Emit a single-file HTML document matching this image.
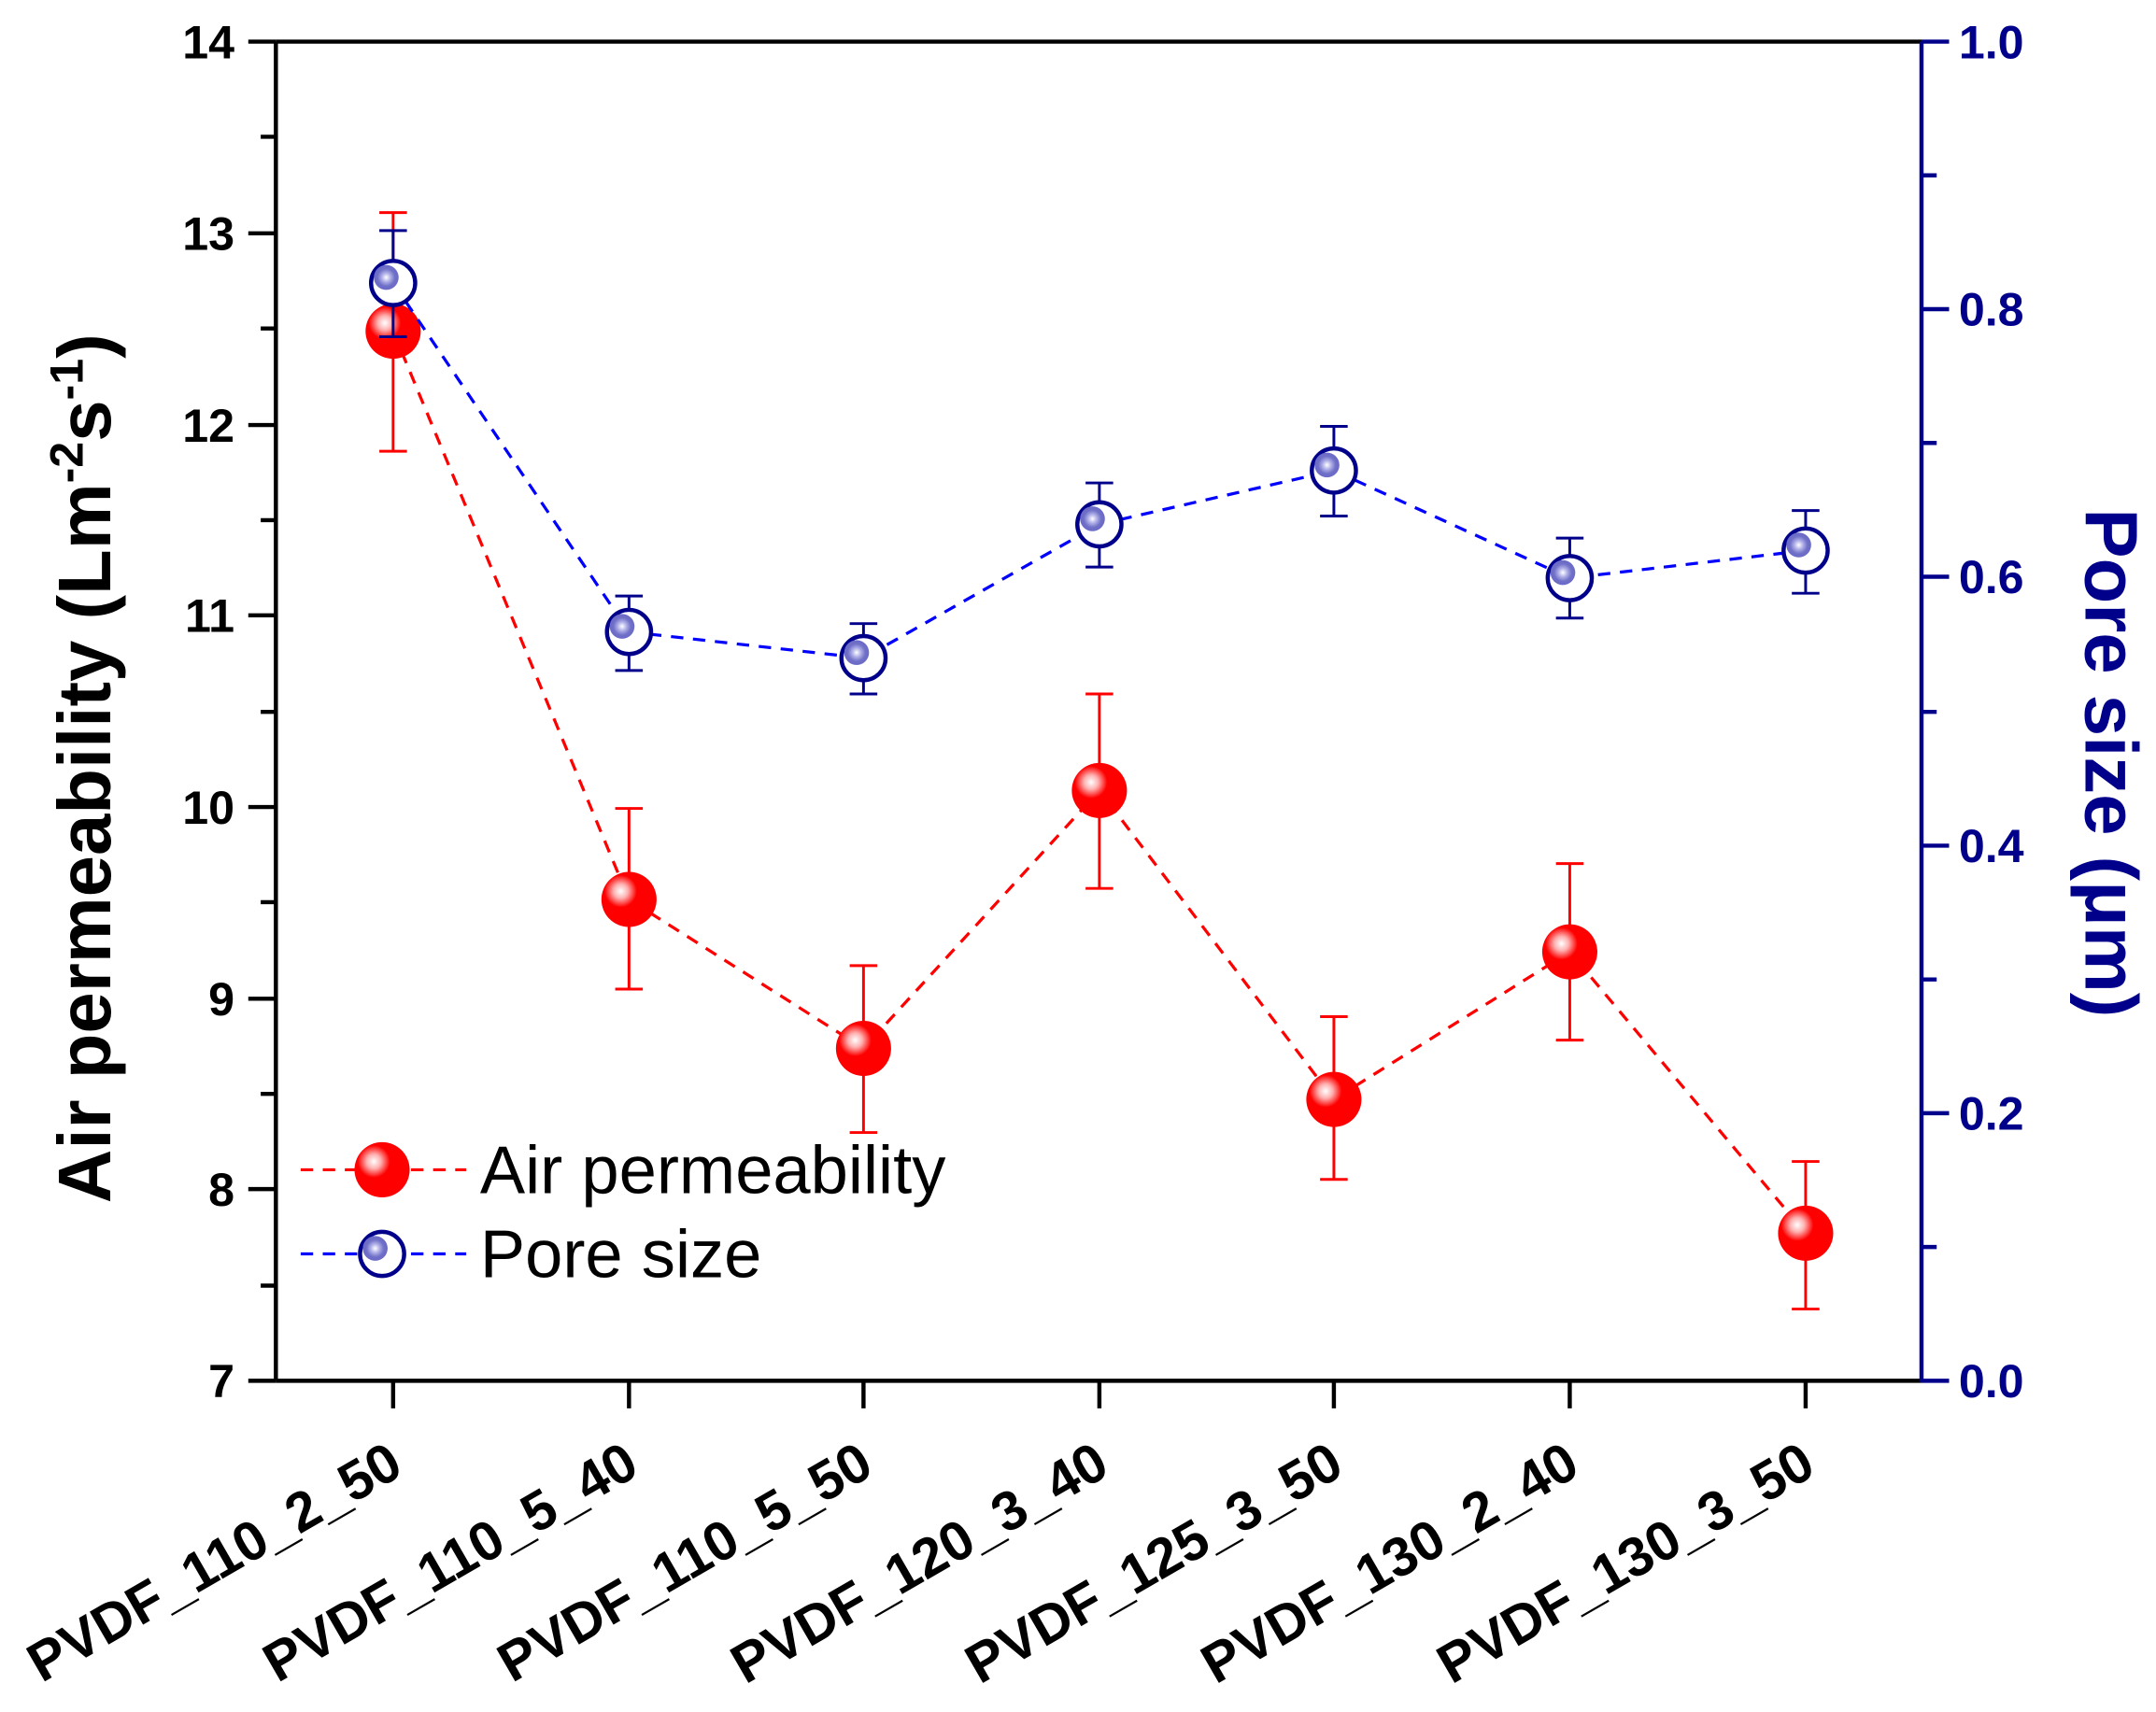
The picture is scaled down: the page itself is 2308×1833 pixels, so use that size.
<!DOCTYPE html>
<html><head><style>html,body{margin:0;padding:0;background:#fff}svg{display:block}</style></head>
<body>
<svg width="2308" height="1833" viewBox="0 0 1563 1241" xmlns="http://www.w3.org/2000/svg" font-family="Liberation Sans, Arial, sans-serif">
<defs>
<radialGradient id="rg" cx="0.35" cy="0.35" r="0.65">
<stop offset="0" stop-color="#fff"/><stop offset="0.2" stop-color="#ffb0b0"/><stop offset="0.45" stop-color="#f00"/><stop offset="1" stop-color="#f00"/></radialGradient>
<radialGradient id="bg" cx="0.5" cy="0.5" r="0.5">
<stop offset="0" stop-color="#fff"/><stop offset="0.35" stop-color="#b0b0e8"/><stop offset="0.7" stop-color="#7070c8"/><stop offset="1" stop-color="#6a6ac8"/></radialGradient>
</defs>
<g stroke="#000" stroke-width="3" fill="none">
<line x1="200" y1="30" x2="1393" y2="30"/>
<line x1="200" y1="30" x2="200" y2="1001"/>
<line x1="200" y1="1001" x2="1393" y2="1001"/>
</g>
<line x1="1393" y1="30" x2="1393" y2="1002" stroke="#00008b" stroke-width="3"/>
<g stroke="#000" stroke-width="3">
<line x1="180" x2="200" y1="30" y2="30"/><line x1="180" x2="200" y1="169" y2="169"/><line x1="180" x2="200" y1="308" y2="308"/><line x1="180" x2="200" y1="446" y2="446"/><line x1="180" x2="200" y1="585" y2="585"/><line x1="180" x2="200" y1="724" y2="724"/><line x1="180" x2="200" y1="862" y2="862"/><line x1="180" x2="200" y1="1001" y2="1001"/>
<line x1="189" x2="200" y1="99" y2="99"/><line x1="189" x2="200" y1="238" y2="238"/><line x1="189" x2="200" y1="377" y2="377"/><line x1="189" x2="200" y1="516" y2="516"/><line x1="189" x2="200" y1="654" y2="654"/><line x1="189" x2="200" y1="793" y2="793"/><line x1="189" x2="200" y1="932" y2="932"/>
<line x1="285" x2="285" y1="1001" y2="1021"/><line x1="456" x2="456" y1="1001" y2="1021"/><line x1="626" x2="626" y1="1001" y2="1021"/><line x1="797" x2="797" y1="1001" y2="1021"/><line x1="967" x2="967" y1="1001" y2="1021"/><line x1="1138" x2="1138" y1="1001" y2="1021"/><line x1="1309" x2="1309" y1="1001" y2="1021"/>
</g>
<g stroke="#00008b" stroke-width="3">
<line x1="1393" x2="1413" y1="30" y2="30"/><line x1="1393" x2="1413" y1="224" y2="224"/><line x1="1393" x2="1413" y1="418" y2="418"/><line x1="1393" x2="1413" y1="613" y2="613"/><line x1="1393" x2="1413" y1="807" y2="807"/><line x1="1393" x2="1413" y1="1001" y2="1001"/>
<line x1="1393" x2="1404" y1="127" y2="127"/><line x1="1393" x2="1404" y1="321" y2="321"/><line x1="1393" x2="1404" y1="516" y2="516"/><line x1="1393" x2="1404" y1="710" y2="710"/><line x1="1393" x2="1404" y1="904" y2="904"/>
</g>
<g font-size="34" font-weight="bold" text-anchor="end">
<text x="170" y="42">14</text><text x="170" y="181">13</text><text x="170" y="320">12</text><text x="170" y="458">11</text><text x="170" y="597">10</text><text x="170" y="736">9</text><text x="170" y="874">8</text><text x="170" y="1013">7</text>
</g>
<g font-size="34" font-weight="bold" fill="#00008b">
<text x="1420" y="42">1.0</text><text x="1420" y="236">0.8</text><text x="1420" y="430">0.6</text><text x="1420" y="625">0.4</text><text x="1420" y="819">0.2</text><text x="1420" y="1013">0.0</text>
</g>
<g font-size="40" font-weight="bold" text-anchor="end">
<text transform="translate(294,1068) rotate(-30)">PVDF_110_2_50</text>
<text transform="translate(465,1068) rotate(-30)">PVDF_110_5_40</text>
<text transform="translate(635,1068) rotate(-30)">PVDF_110_5_50</text>
<text transform="translate(806,1068) rotate(-30)">PVDF_120_3_40</text>
<text transform="translate(976,1068) rotate(-30)">PVDF_125_3_50</text>
<text transform="translate(1147,1068) rotate(-30)">PVDF_130_2_40</text>
<text transform="translate(1318,1068) rotate(-30)">PVDF_130_3_50</text>
</g>
<text transform="translate(80,557) rotate(-90)" text-anchor="middle" font-size="54" font-weight="bold">Air permeability (Lm<tspan dy="-20" font-size="34">-2</tspan><tspan dy="20">s</tspan><tspan dy="-20" font-size="34">-1</tspan><tspan dy="20">)</tspan></text>
<text transform="translate(1512,553) rotate(90)" text-anchor="middle" font-size="54" font-weight="bold" fill="#00008b">Pore size (μm)</text>
<g stroke="#f00" stroke-width="2" fill="none">
<path d="M285 327V154M275 154H295M275 327H295"/>
<path d="M456 717V586M446 586H466M446 717H466"/>
<path d="M626 821V700M616 700H636M616 821H636"/>
<path d="M797 644V503M787 503H807M787 644H807"/>
<path d="M967 855V737M957 737H977M957 855H977"/>
<path d="M1138 754V626M1128 626H1148M1128 754H1148"/>
<path d="M1309 949V842M1299 842H1319M1299 949H1319"/>
</g>
<polyline points="285,240 456,652 626,760 797,573 967,797 1138,690 1309,894" fill="none" stroke="#f00" stroke-width="2.2" stroke-dasharray="9,7"/>
<g fill="url(#rg)">
<circle cx="285" cy="240" r="20"/><circle cx="456" cy="652" r="20"/><circle cx="626" cy="760" r="20"/><circle cx="797" cy="573" r="20"/><circle cx="967" cy="797" r="20"/><circle cx="1138" cy="690" r="20"/><circle cx="1309" cy="894" r="20"/>
</g>
<g stroke="#00008b" stroke-width="2" fill="none">
<path d="M285 244V167M275 167H295M275 244H295"/>
<path d="M456 486V432M446 432H466M446 486H466"/>
<path d="M626 503V452M616 452H636M616 503H636"/>
<path d="M797 411V350M787 350H807M787 411H807"/>
<path d="M967 374V309M957 309H977M957 374H977"/>
<path d="M1138 448V390M1128 390H1148M1128 448H1148"/>
<path d="M1309 430V370M1299 370H1319M1299 430H1319"/>
</g>
<polyline points="285,205 456,458 626,477 797,380 967,341 1138,419 1309,399" fill="none" stroke="#0000ff" stroke-width="2.2" stroke-dasharray="9,7"/>
<g>
<g transform="translate(285,205)"><circle r="16" fill="#fff" stroke="#00008b" stroke-width="3"/><circle cx="-5" cy="-4" r="9" fill="url(#bg)"/></g>
<g transform="translate(456,458)"><circle r="16" fill="#fff" stroke="#00008b" stroke-width="3"/><circle cx="-5" cy="-4" r="9" fill="url(#bg)"/></g>
<g transform="translate(626,477)"><circle r="16" fill="#fff" stroke="#00008b" stroke-width="3"/><circle cx="-5" cy="-4" r="9" fill="url(#bg)"/></g>
<g transform="translate(797,380)"><circle r="16" fill="#fff" stroke="#00008b" stroke-width="3"/><circle cx="-5" cy="-4" r="9" fill="url(#bg)"/></g>
<g transform="translate(967,341)"><circle r="16" fill="#fff" stroke="#00008b" stroke-width="3"/><circle cx="-5" cy="-4" r="9" fill="url(#bg)"/></g>
<g transform="translate(1138,419)"><circle r="16" fill="#fff" stroke="#00008b" stroke-width="3"/><circle cx="-5" cy="-4" r="9" fill="url(#bg)"/></g>
<g transform="translate(1309,399)"><circle r="16" fill="#fff" stroke="#00008b" stroke-width="3"/><circle cx="-5" cy="-4" r="9" fill="url(#bg)"/></g>
</g>
<line x1="218" y1="848" x2="338" y2="848" stroke="#f00" stroke-width="2.2" stroke-dasharray="9,7"/>
<circle cx="277" cy="848" r="20" fill="url(#rg)"/>
<text x="348" y="865" font-size="49">Air permeability</text>
<line x1="218" y1="909" x2="338" y2="909" stroke="#0000ff" stroke-width="2.2" stroke-dasharray="9,7"/>
<g transform="translate(277,909)"><circle r="16" fill="#fff" stroke="#00008b" stroke-width="3"/><circle cx="-5" cy="-4" r="9" fill="url(#bg)"/></g>
<text x="348" y="926" font-size="49">Pore size</text>
</svg>
</body></html>
